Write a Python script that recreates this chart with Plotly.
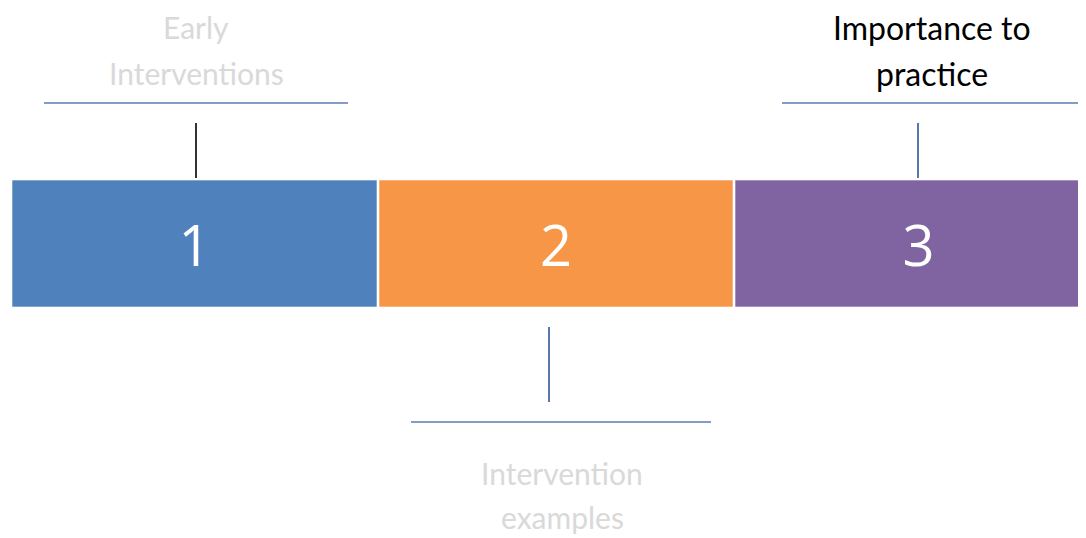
import plotly.graph_objects as go

# --- data ---
stages = ["1", "2", "3"]
seg_widths = [365, 354, 367]
seg_colors = ["#4F81BD", "#F79646", "#8064A2"]
labels = ["Early<br>Interventions", "Intervention<br>examples", "Importance to<br>practice"]
label_colors = ["#D9D9D9", "#D9D9D9", "#000000"]
label_side = ["above", "below", "above"]

# --- layout geometry (pixel-like data units) ---
W, H = 1086, 538
OFF = 8  # page body margin
x0 = 12
gap = 2
bar_y = 243.5
bar_h = 127

fig = go.Figure()

starts = []
cur = x0
for w in seg_widths:
    starts.append(cur)
    cur += w + gap

for i, s in enumerate(stages):
    fig.add_trace(go.Bar(
        y=[bar_y], x=[seg_widths[i]], base=[starts[i]], width=[bar_h],
        orientation="h", marker=dict(color=seg_colors[i], line=dict(color="rgba(255,255,255,0.6)", width=1)),
        text=[s], textposition="inside", insidetextanchor="middle",
        textfont=dict(color="white", size=56, family="Open Sans"),
        hoverinfo="skip", showlegend=False,
    ))

# connector lines and labels
conn_x = [196, 549, 918]
label_cx = [196, 562, 932]
label_size = [30, 30, 32]
hline = [(44, 348), (411, 711), (782, 1086)]
vline_color = ["#000000", "#2F5597", "#2F5597"]
for i in range(3):
    if label_side[i] == "above":
        vy = (123, 178)
        hy = 103
        ly = [27, 73]
    else:
        vy = (327, 402)
        hy = 422
        ly = [473, 517]
    fig.add_trace(go.Scatter(x=[conn_x[i], conn_x[i]], y=list(vy), mode="lines",
                             line=dict(color=vline_color[i], width=1.6), hoverinfo="skip", showlegend=False))
    fig.add_trace(go.Scatter(x=list(hline[i]), y=[hy, hy], mode="lines",
                             line=dict(color="#5B7DB1", width=1.4), hoverinfo="skip", showlegend=False))
    for j, txt in enumerate(labels[i].split("<br>")):
        fig.add_annotation(x=label_cx[i], y=ly[j], text=txt, showarrow=False, xref="x", yref="y",
                           font=dict(size=label_size[i], color=label_colors[i], family="Lato"),
                           xanchor="center", yanchor="middle", borderpad=0)

fig.update_layout(
    width=W - OFF, height=H - OFF, margin=dict(l=0, r=0, t=0, b=0),
    paper_bgcolor="white", plot_bgcolor="white", barmode="overlay",
    xaxis=dict(range=[OFF, W], visible=False, fixedrange=True),
    yaxis=dict(range=[H, OFF], visible=False, fixedrange=True),
)

fig.write_html("out.html")
